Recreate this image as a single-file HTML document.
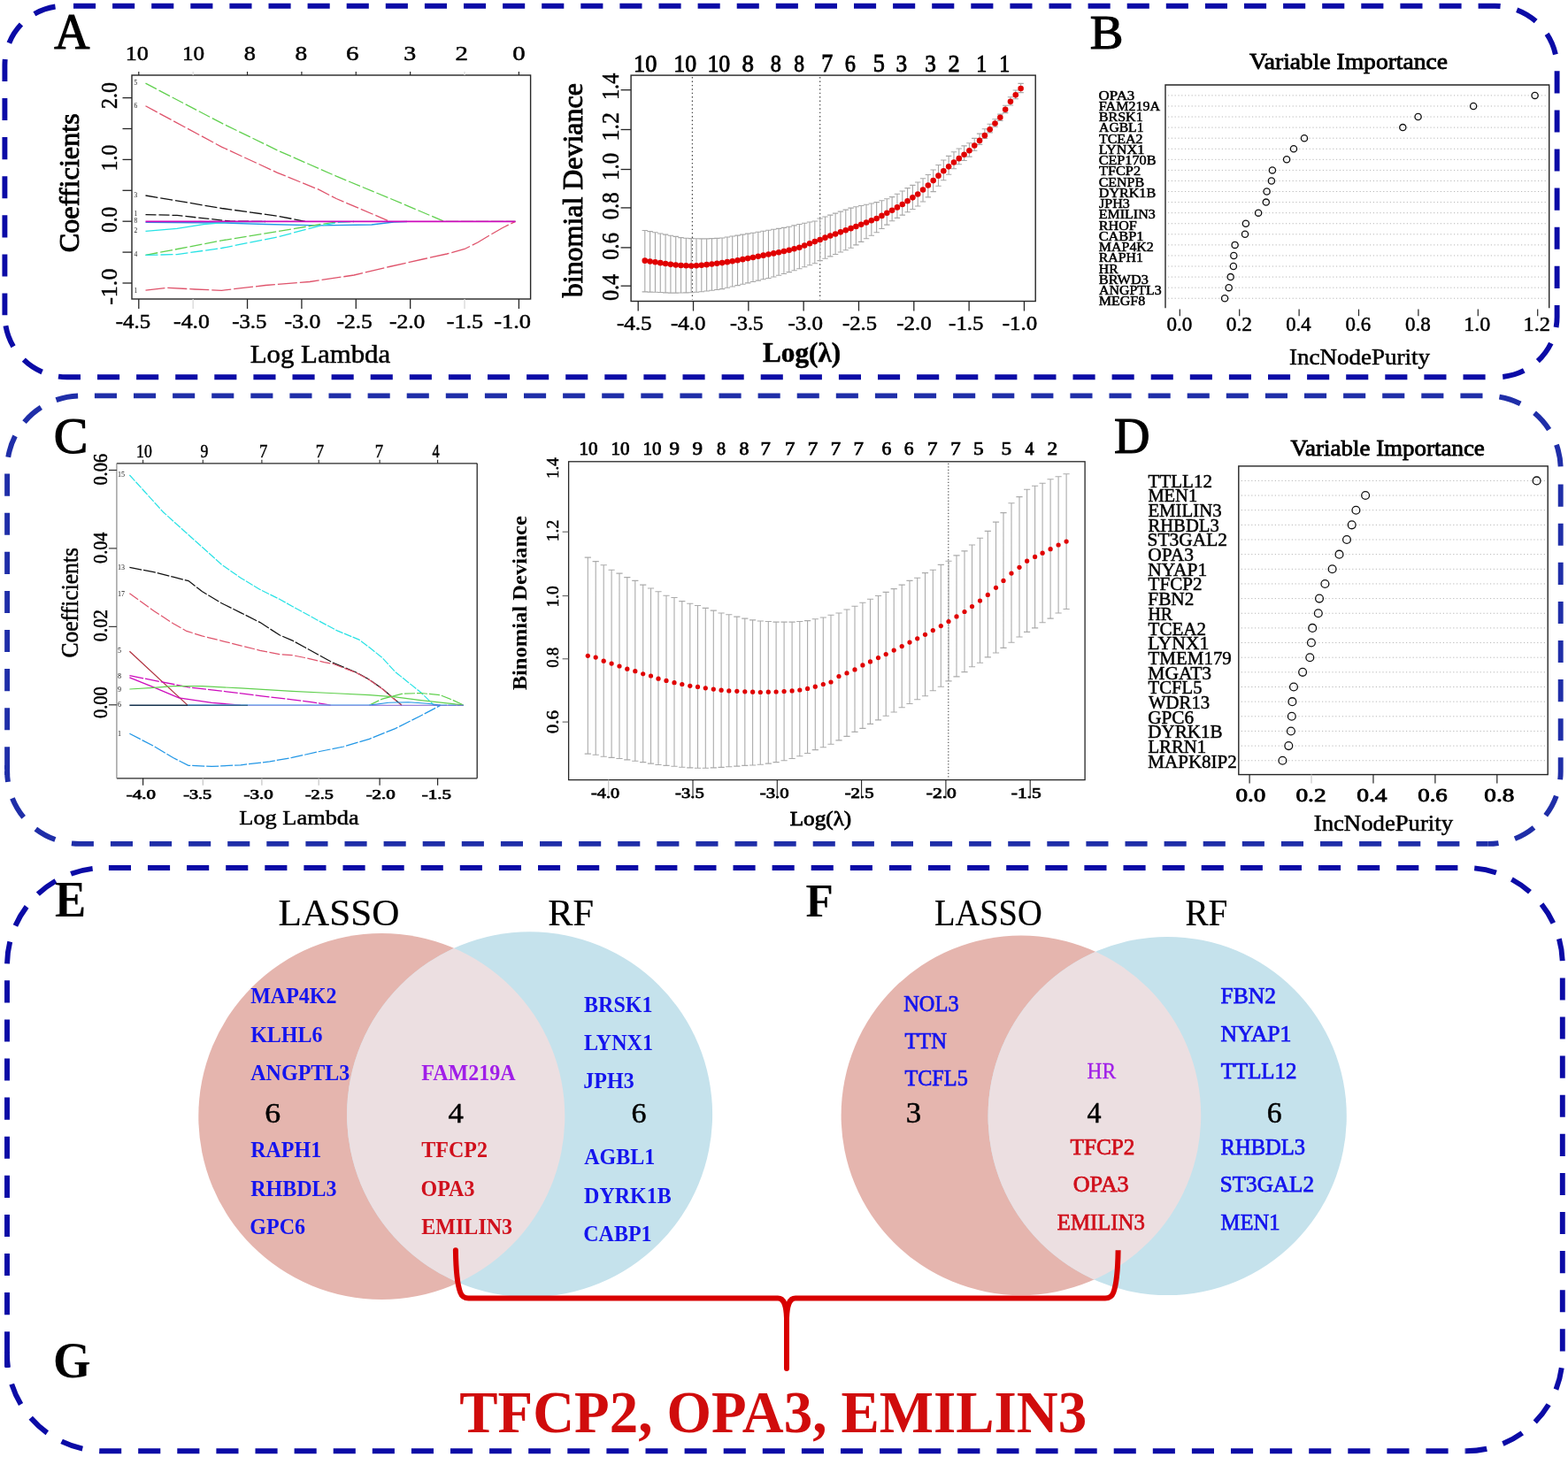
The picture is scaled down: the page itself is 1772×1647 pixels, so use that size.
<!DOCTYPE html>
<html><head><meta charset="utf-8"><title>LASSO and RF feature selection</title>
<style>html,body{margin:0;padding:0;background:#fff;}svg{display:block;}
text{font-family:'Liberation Serif','Times New Roman',serif;}</style></head>
<body><svg width="1772" height="1647" viewBox="0 0 1772 1647">
<rect width="1772" height="1647" fill="#fff"/>
<path d="M72.4,6.8 L1689.6,6.8 A70,70 0 0 1 1759.6,76.8" fill="none" stroke="#0b0ba6" stroke-width="5.9" stroke-dasharray="25.1 19.0" stroke-dashoffset="33.5"/>
<path d="M1759.6,76.8 L1759.6,358.3 A68,68 0 0 1 1691.6,426.3" fill="none" stroke="#0b0ba6" stroke-width="5.9" stroke-dasharray="25.1 19.0" stroke-dashoffset="40.6"/>
<path d="M1691.6,426.3 L75.4,426.3 A70,70 0 0 1 5.4,356.3" fill="none" stroke="#0b0ba6" stroke-width="5.9" stroke-dasharray="25.1 19.0" stroke-dashoffset="31.1"/>
<path d="M5.4,356.3 L5.4,73.8 A67,67 0 0 1 72.4,6.8" fill="none" stroke="#0b0ba6" stroke-width="5.9" stroke-dasharray="25.1 19.0" stroke-dashoffset="0.3"/>
<path d="M91.1,447.4 L1680.7,447.4 A83,83 0 0 1 1763.7,530.4" fill="none" stroke="#1f2ea8" stroke-width="5.9" stroke-dasharray="25.1 19.0" stroke-dashoffset="28.3"/>
<path d="M1763.7,530.4 L1763.7,871.9 A82,82 0 0 1 1681.7,953.9" fill="none" stroke="#1f2ea8" stroke-width="5.9" stroke-dasharray="25.1 19.0" stroke-dashoffset="26.9"/>
<path d="M1681.7,953.9 L90.1,953.9 A82,82 0 0 1 8.1,871.9" fill="none" stroke="#1f2ea8" stroke-width="5.9" stroke-dasharray="25.1 19.0" stroke-dashoffset="11.8"/>
<path d="M8.1,871.9 L8.1,530.4 A83,83 0 0 1 91.1,447.4" fill="none" stroke="#1f2ea8" stroke-width="5.9" stroke-dasharray="25.1 19.0" stroke-dashoffset="41.6"/>
<line x1="8.1" y1="865" x2="8.1" y2="876" stroke="#1f2ea8" stroke-width="5.9"/>
<path d="M118,981 L1656.8,981 A109,109 0 0 1 1765.8,1090" fill="none" stroke="#0b0ba6" stroke-width="5.9" stroke-dasharray="25.1 19.0" stroke-dashoffset="39.2"/>
<path d="M1765.8,1090 L1765.8,1531.3 A109,109 0 0 1 1656.8,1640.3" fill="none" stroke="#0b0ba6" stroke-width="5.9" stroke-dasharray="25.1 19.0" stroke-dashoffset="28.7"/>
<path d="M1656.8,1640.3 L117,1640.3 A109,109 0 0 1 8,1531.3" fill="none" stroke="#0b0ba6" stroke-width="5.9" stroke-dasharray="25.1 19.0" stroke-dashoffset="23.9"/>
<path d="M8,1531.3 L8,1091 A110,110 0 0 1 118,981" fill="none" stroke="#0b0ba6" stroke-width="5.9" stroke-dasharray="25.1 19.0" stroke-dashoffset="43.1"/>
<line x1="8" y1="1528" x2="8" y2="1545.6" stroke="#0b0ba6" stroke-width="5.9"/>
<rect x="3" y="1546" width="11" height="9" fill="#fff"/>
<text x="61.34" y="55.2" font-size="56.52" stroke="#000" stroke-width="1.2" textLength="40.16" lengthAdjust="spacingAndGlyphs">A</text>
<text x="1231.8" y="55.2" font-size="55.57" stroke="#000" stroke-width="1.2" textLength="37.76" lengthAdjust="spacingAndGlyphs">B</text>
<text x="60.78" y="512.3" font-size="56.36" stroke="#000" stroke-width="1.2" textLength="38.62" lengthAdjust="spacingAndGlyphs">C</text>
<text x="1259.11" y="511.8" font-size="56.34" stroke="#000" stroke-width="1.2" textLength="40.57" lengthAdjust="spacingAndGlyphs">D</text>
<text x="62.01" y="1035.6" font-size="57.56" font-weight="bold" textLength="35.24" lengthAdjust="spacingAndGlyphs">E</text>
<text x="910.43" y="1035.5" font-size="53.74" font-weight="bold" textLength="31.32" lengthAdjust="spacingAndGlyphs">F</text>
<text x="60.06" y="1557" font-size="56.82" font-weight="bold" textLength="42.56" lengthAdjust="spacingAndGlyphs">G</text>
<rect x="149" y="85" width="450.6" height="253" fill="none" stroke="#262626" stroke-width="1.4"/>
<line x1="156.8" y1="338" x2="156.8" y2="349" stroke="#262626" stroke-width="1.3"/>
<line x1="156.8" y1="85" x2="156.8" y2="81" stroke="#262626" stroke-width="1.2"/>
<line x1="218.17" y1="338" x2="218.17" y2="349" stroke="#d8d8d8" stroke-width="1.3"/>
<line x1="218.17" y1="85" x2="218.17" y2="81" stroke="#d8d8d8" stroke-width="1.2"/>
<line x1="279.54" y1="338" x2="279.54" y2="349" stroke="#262626" stroke-width="1.3"/>
<line x1="279.54" y1="85" x2="279.54" y2="81" stroke="#262626" stroke-width="1.2"/>
<line x1="340.91" y1="338" x2="340.91" y2="349" stroke="#262626" stroke-width="1.3"/>
<line x1="340.91" y1="85" x2="340.91" y2="81" stroke="#262626" stroke-width="1.2"/>
<line x1="402.28" y1="338" x2="402.28" y2="349" stroke="#262626" stroke-width="1.3"/>
<line x1="402.28" y1="85" x2="402.28" y2="81" stroke="#262626" stroke-width="1.2"/>
<line x1="463.65" y1="338" x2="463.65" y2="349" stroke="#262626" stroke-width="1.3"/>
<line x1="463.65" y1="85" x2="463.65" y2="81" stroke="#262626" stroke-width="1.2"/>
<line x1="525.02" y1="338" x2="525.02" y2="349" stroke="#d8d8d8" stroke-width="1.3"/>
<line x1="525.02" y1="85" x2="525.02" y2="81" stroke="#d8d8d8" stroke-width="1.2"/>
<line x1="586.39" y1="338" x2="586.39" y2="349" stroke="#262626" stroke-width="1.3"/>
<line x1="586.39" y1="85" x2="586.39" y2="81" stroke="#262626" stroke-width="1.2"/>
<line x1="138.5" y1="110.6" x2="149" y2="110.6" stroke="#262626" stroke-width="1.3"/>
<line x1="138.5" y1="145.5" x2="149" y2="145.5" stroke="#262626" stroke-width="1.3"/>
<line x1="138.5" y1="180.4" x2="149" y2="180.4" stroke="#262626" stroke-width="1.3"/>
<line x1="138.5" y1="215.3" x2="149" y2="215.3" stroke="#262626" stroke-width="1.3"/>
<line x1="138.5" y1="250.2" x2="149" y2="250.2" stroke="#262626" stroke-width="1.3"/>
<line x1="138.5" y1="285.1" x2="149" y2="285.1" stroke="#262626" stroke-width="1.3"/>
<line x1="138.5" y1="320" x2="149" y2="320" stroke="#262626" stroke-width="1.3"/>
<text x="141.68" y="67.7" font-size="22.86" stroke="#000" stroke-width="0.5" textLength="26.17" lengthAdjust="spacingAndGlyphs">10</text>
<text x="206.06" y="67.7" font-size="22.86" stroke="#000" stroke-width="0.5" textLength="25.14" lengthAdjust="spacingAndGlyphs">10</text>
<text x="275.75" y="67.7" font-size="22.86" stroke="#000" stroke-width="0.5" textLength="13.1" lengthAdjust="spacingAndGlyphs">8</text>
<text x="333.6" y="67.7" font-size="22.86" stroke="#000" stroke-width="0.5" textLength="13.69" lengthAdjust="spacingAndGlyphs">8</text>
<text x="391.14" y="67.7" font-size="23.03" stroke="#000" stroke-width="0.5" textLength="14.53" lengthAdjust="spacingAndGlyphs">6</text>
<text x="456.24" y="67.7" font-size="23.03" stroke="#000" stroke-width="0.5" textLength="13.98" lengthAdjust="spacingAndGlyphs">3</text>
<text x="514.41" y="67.7" font-size="23.03" stroke="#000" stroke-width="0.5" textLength="14.38" lengthAdjust="spacingAndGlyphs">2</text>
<text x="579.25" y="67.7" font-size="22.86" stroke="#000" stroke-width="0.5" textLength="14.4" lengthAdjust="spacingAndGlyphs">0</text>
<text x="130.83" y="371.4" font-size="22.88" stroke="#000" stroke-width="0.5" textLength="39.31" lengthAdjust="spacingAndGlyphs">-4.5</text>
<text x="196.1" y="371.4" font-size="22.71" stroke="#000" stroke-width="0.5" textLength="40.78" lengthAdjust="spacingAndGlyphs">-4.0</text>
<text x="262.23" y="371.4" font-size="22.88" stroke="#000" stroke-width="0.5" textLength="39.21" lengthAdjust="spacingAndGlyphs">-3.5</text>
<text x="321.6" y="371.4" font-size="22.71" stroke="#000" stroke-width="0.5" textLength="40.78" lengthAdjust="spacingAndGlyphs">-3.0</text>
<text x="380.51" y="371.4" font-size="22.88" stroke="#000" stroke-width="0.5" textLength="40.36" lengthAdjust="spacingAndGlyphs">-2.5</text>
<text x="440.01" y="371.4" font-size="22.71" stroke="#000" stroke-width="0.5" textLength="40.36" lengthAdjust="spacingAndGlyphs">-2.0</text>
<text x="504.68" y="371.4" font-size="22.88" stroke="#000" stroke-width="0.5" textLength="41.41" lengthAdjust="spacingAndGlyphs">-1.5</text>
<text x="558.18" y="371.4" font-size="22.71" stroke="#000" stroke-width="0.5" textLength="41.83" lengthAdjust="spacingAndGlyphs">-1.0</text>
<text x="282.67" y="409.8" font-size="29.06" stroke="#000" stroke-width="0.5" textLength="158.6" lengthAdjust="spacingAndGlyphs">Log Lambda</text>
<text transform="translate(132,121.8) rotate(-90)" x="-1.08" y="0" font-size="25.86" stroke="#000" stroke-width="0.5" textLength="29.94" lengthAdjust="spacingAndGlyphs">2.0</text>
<text transform="translate(132,191.5) rotate(-90)" x="-2.05" y="0" font-size="25.86" stroke="#000" stroke-width="0.5" textLength="30.11" lengthAdjust="spacingAndGlyphs">1.0</text>
<text transform="translate(132,262) rotate(-90)" x="-0.93" y="0" font-size="25.86" stroke="#000" stroke-width="0.5" textLength="28.95" lengthAdjust="spacingAndGlyphs">0.0</text>
<text transform="translate(132,343.9) rotate(-90)" x="-0.91" y="0" font-size="25.86" stroke="#000" stroke-width="0.5" textLength="41.2" lengthAdjust="spacingAndGlyphs">-1.0</text>
<text transform="translate(88.6,284) rotate(-90)" x="-1.29" y="0" font-size="31.77" stroke="#000" stroke-width="0.9" textLength="157.09" lengthAdjust="spacingAndGlyphs">Coefficients</text>
<path d="M164.5,94.2 L250.5,139.2 L313.7,170 L380,199.2 L440,224 L502,250.3 L582.5,250.3" fill="none" stroke="#61D04F" stroke-width="1.3" stroke-dasharray="14 3"/>
<path d="M164.5,119.8 L250.5,166.1 L313.7,195.3 L360,214.2 L380,224.5 L440.5,250.3" fill="none" stroke="#DF536B" stroke-width="1.3" stroke-dasharray="15 3"/>
<path d="M164.5,221 L250.5,235.5 L313.7,244.2 L345,250.3" fill="none" stroke="#111" stroke-width="1.3" stroke-dasharray="14 3"/>
<path d="M164.5,242.6 L200,243.4 L260,250 L300,250.5" fill="none" stroke="#111" stroke-width="1.3" stroke-dasharray="12 3"/>
<path d="M164.5,251.3 L250,252 L300,253.5 L360,254.9 L420,254 L445,251 L460,250.5" fill="none" stroke="#2297E6" stroke-width="1.3"/>
<path d="M164.5,261.3 L200,258.3 L230,253.7 L260,251 L300,250.5" fill="none" stroke="#28E2E5" stroke-width="1.3"/>
<path d="M164.5,288.4 L250.5,271.9 L313.7,261.6 L361,253.7 L380,251 L400,250.5" fill="none" stroke="#61D04F" stroke-width="1.3" stroke-dasharray="14 3"/>
<path d="M164.5,288.4 L200,287.6 L250.5,280.5 L313.7,267.9 L361,255.3 L385,251 L400,250.5" fill="none" stroke="#28E2E5" stroke-width="1.3" stroke-dasharray="14 3"/>
<path d="M164.5,328.2 L190,325.3 L220,327 L250.5,328.3 L300,322.5 L350,318.5 L400,311 L440,301.5 L480,292.5 L505,287 L525,281.5 L540,274 L555,265 L568,257.5 L582.5,250.3" fill="none" stroke="#DF536B" stroke-width="1.3" stroke-dasharray="22 3"/>
<path d="M164.5,250.4 L582.5,250.4" fill="none" stroke="#CD0BBC" stroke-width="1.8"/>
<text x="151.5" y="96" font-size="7.5" fill="#222">5</text>
<text x="151.5" y="122" font-size="7.5" fill="#222">6</text>
<text x="151.5" y="223" font-size="7.5" fill="#222">3</text>
<text x="151.5" y="244" font-size="7.5" fill="#222">1</text>
<text x="151.5" y="252" font-size="7.5" fill="#222">8</text>
<text x="151.5" y="263" font-size="7.5" fill="#222">2</text>
<text x="151.5" y="290" font-size="7.5" fill="#222">4</text>
<text x="151.5" y="331" font-size="7.5" fill="#222">1</text>
<rect x="713.1" y="85.1" width="457.1" height="255.4" fill="none" stroke="#262626" stroke-width="1.4"/>
<line x1="721.2" y1="340.5" x2="721.2" y2="351.5" stroke="#262626" stroke-width="1.3"/>
<line x1="783.52" y1="340.5" x2="783.52" y2="351.5" stroke="#262626" stroke-width="1.3"/>
<line x1="845.84" y1="340.5" x2="845.84" y2="351.5" stroke="#262626" stroke-width="1.3"/>
<line x1="908.16" y1="340.5" x2="908.16" y2="351.5" stroke="#262626" stroke-width="1.3"/>
<line x1="970.48" y1="340.5" x2="970.48" y2="351.5" stroke="#262626" stroke-width="1.3"/>
<line x1="1032.8" y1="340.5" x2="1032.8" y2="351.5" stroke="#262626" stroke-width="1.3"/>
<line x1="1095.12" y1="340.5" x2="1095.12" y2="351.5" stroke="#262626" stroke-width="1.3"/>
<line x1="1157.44" y1="340.5" x2="1157.44" y2="351.5" stroke="#262626" stroke-width="1.3"/>
<line x1="701.6" y1="101.7" x2="713.1" y2="101.7" stroke="#262626" stroke-width="1.3"/>
<line x1="701.6" y1="146.5" x2="713.1" y2="146.5" stroke="#262626" stroke-width="1.3"/>
<line x1="701.6" y1="191.5" x2="713.1" y2="191.5" stroke="#262626" stroke-width="1.3"/>
<line x1="701.6" y1="234.9" x2="713.1" y2="234.9" stroke="#262626" stroke-width="1.3"/>
<line x1="701.6" y1="279.9" x2="713.1" y2="279.9" stroke="#262626" stroke-width="1.3"/>
<line x1="701.6" y1="323.2" x2="713.1" y2="323.2" stroke="#262626" stroke-width="1.3"/>
<line x1="782.4" y1="87.1" x2="782.4" y2="338.5" stroke="#444" stroke-width="1.2" stroke-dasharray="1.4 3"/>
<line x1="926.7" y1="87.1" x2="926.7" y2="338.5" stroke="#444" stroke-width="1.2" stroke-dasharray="1.4 3"/>
<path d="M728.8,260.44 V329.91 M725.6,260.44 H732 M725.6,329.91 H732 M734.62,261.61 V330.09 M731.42,261.61 H737.82 M731.42,330.09 H737.82 M740.44,262.79 V330.28 M737.24,262.79 H743.64 M737.24,330.28 H743.64 M746.26,263.94 V330.55 M743.06,263.94 H749.46 M743.06,330.55 H749.46 M752.08,265.09 V330.83 M748.88,265.09 H755.28 M748.88,330.83 H755.28 M757.9,266.24 V331.11 M754.7,266.24 H761.1 M754.7,331.11 H761.1 M763.72,267.41 V331.13 M760.52,267.41 H766.92 M760.52,331.13 H766.92 M769.53,268.58 V331.02 M766.33,268.58 H772.73 M766.33,331.02 H772.73 M775.35,269.3 V330.92 M772.15,269.3 H778.55 M772.15,330.92 H778.55 M781.17,269.65 V330.81 M777.97,269.65 H784.37 M777.97,330.81 H784.37 M786.99,269.8 V330.3 M783.79,269.8 H790.19 M783.79,330.3 H790.19 M792.81,269.92 V329.71 M789.61,269.92 H796.01 M789.61,329.71 H796.01 M798.63,269.92 V329.07 M795.43,269.92 H801.83 M795.43,329.07 H801.83 M804.45,269.63 V328.29 M801.25,269.63 H807.65 M801.25,328.29 H807.65 M810.27,269.35 V327.5 M807.07,269.35 H813.47 M807.07,327.5 H813.47 M816.09,269 V326.66 M812.89,269 H819.29 M812.89,326.66 H819.29 M821.91,268.03 V325.32 M818.71,268.03 H825.11 M818.71,325.32 H825.11 M827.73,267.06 V323.97 M824.53,267.06 H830.93 M824.53,323.97 H830.93 M833.55,266.09 V322.63 M830.35,266.09 H836.75 M830.35,322.63 H836.75 M839.36,265.13 V321.26 M836.16,265.13 H842.56 M836.16,321.26 H842.56 M845.18,264.16 V319.89 M841.98,264.16 H848.38 M841.98,319.89 H848.38 M851,263.2 V318.52 M847.8,263.2 H854.2 M847.8,318.52 H854.2 M856.82,262.23 V317.17 M853.62,262.23 H860.02 M853.62,317.17 H860.02 M862.64,261.26 V315.82 M859.44,261.26 H865.84 M859.44,315.82 H865.84 M868.46,260.29 V314.48 M865.26,260.29 H871.66 M865.26,314.48 H871.66 M874.28,259.32 V312.93 M871.08,259.32 H877.48 M871.08,312.93 H877.48 M880.1,258.35 V311.18 M876.9,258.35 H883.3 M876.9,311.18 H883.3 M885.92,257.38 V309.43 M882.72,257.38 H889.12 M882.72,309.43 H889.12 M891.74,256.29 V307.62 M888.54,256.29 H894.94 M888.54,307.62 H894.94 M897.56,254.91 V305.68 M894.36,254.91 H900.76 M894.36,305.68 H900.76 M903.38,253.54 V303.74 M900.18,253.54 H906.58 M900.18,303.74 H906.58 M909.19,252.18 V301.79 M905.99,252.18 H912.39 M905.99,301.79 H912.39 M915.01,251.06 V299.78 M911.81,251.06 H918.21 M911.81,299.78 H918.21 M920.83,249.93 V297.76 M917.63,249.93 H924.03 M917.63,297.76 H924.03 M926.65,247.05 V294.61 M923.45,247.05 H929.85 M923.45,294.61 H929.85 M932.47,245.06 V292.23 M929.27,245.06 H935.67 M929.27,292.23 H935.67 M938.29,243.08 V289.84 M935.09,243.08 H941.49 M935.09,289.84 H941.49 M944.11,241.1 V287.46 M940.91,241.1 H947.31 M940.91,287.46 H947.31 M949.93,239.12 V285.07 M946.73,239.12 H953.13 M946.73,285.07 H953.13 M955.75,237.13 V282.69 M952.55,237.13 H958.95 M952.55,282.69 H958.95 M961.57,235.15 V280.3 M958.37,235.15 H964.77 M958.37,280.3 H964.77 M967.39,233.78 V276.9 M964.19,233.78 H970.59 M964.19,276.9 H970.59 M973.21,232.5 V273.35 M970.01,232.5 H976.41 M970.01,273.35 H976.41 M979.02,231.21 V269.8 M975.82,231.21 H982.22 M975.82,269.8 H982.22 M984.84,229.93 V266.24 M981.64,229.93 H988.04 M981.64,266.24 H988.04 M990.66,228.65 V262.69 M987.46,228.65 H993.86 M987.46,262.69 H993.86 M996.48,226.74 V258.49 M993.28,226.74 H999.68 M993.28,258.49 H999.68 M1002.3,224.69 V254.12 M999.1,224.69 H1005.5 M999.1,254.12 H1005.5 M1008.12,222.63 V249.76 M1004.92,222.63 H1011.32 M1004.92,249.76 H1011.32 M1013.94,219.32 V246.42 M1010.74,219.32 H1017.14 M1010.74,246.42 H1017.14 M1019.76,215.99 V243.09 M1016.56,215.99 H1022.96 M1016.56,243.09 H1022.96 M1025.58,212.67 V239.77 M1022.38,212.67 H1028.78 M1022.38,239.77 H1028.78 M1031.4,209.34 V236.44 M1028.2,209.34 H1034.6 M1028.2,236.44 H1034.6 M1037.22,205.97 V233.02 M1034.02,205.97 H1040.42 M1034.02,233.02 H1040.42 M1043.04,201.71 V227.96 M1039.84,201.71 H1046.24 M1039.84,227.96 H1046.24 M1048.85,197.45 V222.9 M1045.65,197.45 H1052.05 M1045.65,222.9 H1052.05 M1054.67,191.99 V216.59 M1051.47,191.99 H1057.87 M1051.47,216.59 H1057.87 M1060.49,186.46 V210.21 M1057.29,186.46 H1063.69 M1057.29,210.21 H1063.69 M1066.31,181.03 V203.81 M1063.11,181.03 H1069.51 M1063.11,203.81 H1069.51 M1072.13,176.36 V197.31 M1068.93,176.36 H1075.33 M1068.93,197.31 H1075.33 M1077.95,171.69 V190.82 M1074.75,171.69 H1081.15 M1074.75,190.82 H1081.15 M1083.77,167.97 V185.69 M1080.57,167.97 H1086.97 M1080.57,185.69 H1086.97 M1089.59,164.9 V181.48 M1086.39,164.9 H1092.79 M1086.39,181.48 H1092.79 M1095.41,161.72 V177.14 M1092.21,161.72 H1098.61 M1092.21,177.14 H1098.61 M1101.23,156.42 V170.25 M1098.03,156.42 H1104.43 M1098.03,170.25 H1104.43 M1107.05,151.12 V163.36 M1103.85,151.12 H1110.25 M1103.85,163.36 H1110.25 M1112.87,145.81 V156.48 M1109.67,145.81 H1116.07 M1109.67,156.48 H1116.07 M1118.68,140.27 V149.84 M1115.48,140.27 H1121.88 M1115.48,149.84 H1121.88 M1124.5,134.73 V143.2 M1121.3,134.73 H1127.7 M1121.3,143.2 H1127.7 M1130.32,129.16 V136.56 M1127.12,129.16 H1133.52 M1127.12,136.56 H1133.52 M1136.14,119.32 V127.65 M1132.94,119.32 H1139.34 M1132.94,127.65 H1139.34 M1141.96,109.82 V119 M1138.76,109.82 H1145.16 M1138.76,119 H1145.16 M1147.78,102.04 V111.74 M1144.58,102.04 H1150.98 M1144.58,111.74 H1150.98 M1153.6,94.4 V104.6 M1150.4,94.4 H1156.8 M1150.4,104.6 H1156.8" fill="none" stroke="#a8a8a8" stroke-width="1.1"/>
<g fill="#e00000"><circle cx="728.8" cy="294.63" r="3.3"/><circle cx="734.62" cy="295.47" r="3.3"/><circle cx="740.44" cy="296.32" r="3.3"/><circle cx="746.26" cy="297.16" r="3.3"/><circle cx="752.08" cy="297.99" r="3.3"/><circle cx="757.9" cy="298.83" r="3.3"/><circle cx="763.72" cy="299.44" r="3.3"/><circle cx="769.53" cy="300.03" r="3.3"/><circle cx="775.35" cy="300.27" r="3.3"/><circle cx="781.17" cy="300.47" r="3.3"/><circle cx="786.99" cy="300.19" r="3.3"/><circle cx="792.81" cy="299.82" r="3.3"/><circle cx="798.63" cy="299.17" r="3.3"/><circle cx="804.45" cy="298.49" r="3.3"/><circle cx="810.27" cy="297.79" r="3.3"/><circle cx="816.09" cy="297.09" r="3.3"/><circle cx="821.91" cy="296.17" r="3.3"/><circle cx="827.73" cy="295.23" r="3.3"/><circle cx="833.55" cy="294.19" r="3.3"/><circle cx="839.36" cy="293.16" r="3.3"/><circle cx="845.18" cy="292.12" r="3.3"/><circle cx="851" cy="290.95" r="3.3"/><circle cx="856.82" cy="289.78" r="3.3"/><circle cx="862.64" cy="288.65" r="3.3"/><circle cx="868.46" cy="287.54" r="3.3"/><circle cx="874.28" cy="286.42" r="3.3"/><circle cx="880.1" cy="285.18" r="3.3"/><circle cx="885.92" cy="283.94" r="3.3"/><circle cx="891.74" cy="282.69" r="3.3"/><circle cx="897.56" cy="281.24" r="3.3"/><circle cx="903.38" cy="279.78" r="3.3"/><circle cx="909.19" cy="277.52" r="3.3"/><circle cx="915.01" cy="275.22" r="3.3"/><circle cx="920.83" cy="273.1" r="3.3"/><circle cx="926.65" cy="270.98" r="3.3"/><circle cx="932.47" cy="268.63" r="3.3"/><circle cx="938.29" cy="266.53" r="3.3"/><circle cx="944.11" cy="264.44" r="3.3"/><circle cx="949.93" cy="262.35" r="3.3"/><circle cx="955.75" cy="260.25" r="3.3"/><circle cx="961.57" cy="258.16" r="3.3"/><circle cx="967.39" cy="255.95" r="3.3"/><circle cx="973.21" cy="253.72" r="3.3"/><circle cx="979.02" cy="251.49" r="3.3"/><circle cx="984.84" cy="249.25" r="3.3"/><circle cx="990.66" cy="246.96" r="3.3"/><circle cx="996.48" cy="243.88" r="3.3"/><circle cx="1002.3" cy="240.81" r="3.3"/><circle cx="1008.12" cy="237.74" r="3.3"/><circle cx="1013.94" cy="234.41" r="3.3"/><circle cx="1019.76" cy="231.06" r="3.3"/><circle cx="1025.58" cy="227.2" r="3.3"/><circle cx="1031.4" cy="223.35" r="3.3"/><circle cx="1037.22" cy="219.43" r="3.3"/><circle cx="1043.04" cy="214.52" r="3.3"/><circle cx="1048.85" cy="209.57" r="3.3"/><circle cx="1054.67" cy="204.11" r="3.3"/><circle cx="1060.49" cy="198.65" r="3.3"/><circle cx="1066.31" cy="193.18" r="3.3"/><circle cx="1072.13" cy="188.37" r="3.3"/><circle cx="1077.95" cy="183.56" r="3.3"/><circle cx="1083.77" cy="179.13" r="3.3"/><circle cx="1089.59" cy="174.7" r="3.3"/><circle cx="1095.41" cy="170.2" r="3.3"/><circle cx="1101.23" cy="164.55" r="3.3"/><circle cx="1107.05" cy="158.9" r="3.3"/><circle cx="1112.87" cy="153.14" r="3.3"/><circle cx="1118.68" cy="146.35" r="3.3"/><circle cx="1124.5" cy="139.56" r="3.3"/><circle cx="1130.32" cy="132.76" r="3.3"/><circle cx="1136.14" cy="123.72" r="3.3"/><circle cx="1141.96" cy="114.85" r="3.3"/><circle cx="1147.78" cy="107.36" r="3.3"/><circle cx="1153.6" cy="100" r="3.3"/></g>
<text x="716.07" y="80.6" font-size="28.12" stroke="#000" stroke-width="0.9" textLength="26.29" lengthAdjust="spacingAndGlyphs">10</text>
<text x="761.3" y="80.6" font-size="28.12" stroke="#000" stroke-width="0.9" textLength="25.83" lengthAdjust="spacingAndGlyphs">10</text>
<text x="799.4" y="80.6" font-size="28.12" stroke="#000" stroke-width="0.9" textLength="25.83" lengthAdjust="spacingAndGlyphs">10</text>
<text x="838.62" y="80.6" font-size="28.12" stroke="#000" stroke-width="0.9" textLength="13.45" lengthAdjust="spacingAndGlyphs">8</text>
<text x="870.83" y="80.6" font-size="28.12" stroke="#000" stroke-width="0.9" textLength="12.14" lengthAdjust="spacingAndGlyphs">8</text>
<text x="897.26" y="80.6" font-size="28.12" stroke="#000" stroke-width="0.9" textLength="11.79" lengthAdjust="spacingAndGlyphs">8</text>
<text x="928.31" y="80.6" font-size="28.55" stroke="#000" stroke-width="0.9" textLength="12.96" lengthAdjust="spacingAndGlyphs">7</text>
<text x="954.77" y="80.6" font-size="28.33" stroke="#000" stroke-width="0.9" textLength="12.21" lengthAdjust="spacingAndGlyphs">6</text>
<text x="986.67" y="80.6" font-size="28.55" stroke="#000" stroke-width="0.9" textLength="13.12" lengthAdjust="spacingAndGlyphs">5</text>
<text x="1012.61" y="80.6" font-size="28.33" stroke="#000" stroke-width="0.9" textLength="12.65" lengthAdjust="spacingAndGlyphs">3</text>
<text x="1045.31" y="80.6" font-size="28.33" stroke="#000" stroke-width="0.9" textLength="12.65" lengthAdjust="spacingAndGlyphs">3</text>
<text x="1071.47" y="80.6" font-size="28.33" stroke="#000" stroke-width="0.9" textLength="13.12" lengthAdjust="spacingAndGlyphs">2</text>
<text x="1103.31" y="80.6" font-size="28.33" stroke="#000" stroke-width="0.9" textLength="11.97" lengthAdjust="spacingAndGlyphs">1</text>
<text x="1129.21" y="80.6" font-size="28.33" stroke="#000" stroke-width="0.9" textLength="11.97" lengthAdjust="spacingAndGlyphs">1</text>
<text x="696.92" y="372.8" font-size="22.42" stroke="#000" stroke-width="0.5" textLength="39.73" lengthAdjust="spacingAndGlyphs">-4.5</text>
<text x="757.93" y="372.8" font-size="22.26" stroke="#000" stroke-width="0.5" textLength="39.42" lengthAdjust="spacingAndGlyphs">-4.0</text>
<text x="825.07" y="372.8" font-size="22.42" stroke="#000" stroke-width="0.5" textLength="37.74" lengthAdjust="spacingAndGlyphs">-3.5</text>
<text x="890.43" y="372.8" font-size="22.26" stroke="#000" stroke-width="0.5" textLength="39.52" lengthAdjust="spacingAndGlyphs">-3.0</text>
<text x="952.04" y="372.8" font-size="22.42" stroke="#000" stroke-width="0.5" textLength="39.1" lengthAdjust="spacingAndGlyphs">-2.5</text>
<text x="1013.23" y="372.8" font-size="22.26" stroke="#000" stroke-width="0.5" textLength="39.42" lengthAdjust="spacingAndGlyphs">-2.0</text>
<text x="1072.13" y="372.8" font-size="22.42" stroke="#000" stroke-width="0.5" textLength="39.42" lengthAdjust="spacingAndGlyphs">-1.5</text>
<text x="1132.73" y="372.8" font-size="22.26" stroke="#000" stroke-width="0.5" textLength="39.42" lengthAdjust="spacingAndGlyphs">-1.0</text>
<text x="861.93" y="409.2" font-size="31.77" font-weight="bold" stroke="#000" stroke-width="0.5" textLength="88.26" lengthAdjust="spacingAndGlyphs">Log(λ)</text>
<text transform="translate(698.5,111) rotate(-90)" x="-2.06" y="0" font-size="28.18" stroke="#000" stroke-width="0.5" textLength="30.33" lengthAdjust="spacingAndGlyphs">1.4</text>
<text transform="translate(698.5,157.4) rotate(-90)" x="-2.21" y="0" font-size="28.18" stroke="#000" stroke-width="0.5" textLength="32.55" lengthAdjust="spacingAndGlyphs">1.2</text>
<text transform="translate(698.5,201.8) rotate(-90)" x="-2.1" y="0" font-size="27.97" stroke="#000" stroke-width="0.5" textLength="30.89" lengthAdjust="spacingAndGlyphs">1.0</text>
<text transform="translate(698.5,247.3) rotate(-90)" x="-0.99" y="0" font-size="27.97" stroke="#000" stroke-width="0.5" textLength="30.98" lengthAdjust="spacingAndGlyphs">0.8</text>
<text transform="translate(698.5,292.7) rotate(-90)" x="-0.98" y="0" font-size="27.97" stroke="#000" stroke-width="0.5" textLength="30.61" lengthAdjust="spacingAndGlyphs">0.6</text>
<text transform="translate(698.5,339.1) rotate(-90)" x="-0.97" y="0" font-size="27.97" stroke="#000" stroke-width="0.5" textLength="30.23" lengthAdjust="spacingAndGlyphs">0.4</text>
<text transform="translate(658.2,336.2) rotate(-90)" x="0" y="0" font-size="31.94" stroke="#000" stroke-width="0.9" textLength="242.03" lengthAdjust="spacingAndGlyphs">binomial Deviance</text>
<line x1="1320" y1="107.9" x2="1747.7" y2="107.9" stroke="#b8b8b8" stroke-width="1.0" stroke-dasharray="1.2 2.6"/>
<line x1="1320" y1="119.97" x2="1747.7" y2="119.97" stroke="#b8b8b8" stroke-width="1.0" stroke-dasharray="1.2 2.6"/>
<line x1="1320" y1="132.04" x2="1747.7" y2="132.04" stroke="#b8b8b8" stroke-width="1.0" stroke-dasharray="1.2 2.6"/>
<line x1="1320" y1="144.11" x2="1747.7" y2="144.11" stroke="#b8b8b8" stroke-width="1.0" stroke-dasharray="1.2 2.6"/>
<line x1="1320" y1="156.18" x2="1747.7" y2="156.18" stroke="#b8b8b8" stroke-width="1.0" stroke-dasharray="1.2 2.6"/>
<line x1="1320" y1="168.25" x2="1747.7" y2="168.25" stroke="#b8b8b8" stroke-width="1.0" stroke-dasharray="1.2 2.6"/>
<line x1="1320" y1="180.32" x2="1747.7" y2="180.32" stroke="#b8b8b8" stroke-width="1.0" stroke-dasharray="1.2 2.6"/>
<line x1="1320" y1="192.39" x2="1747.7" y2="192.39" stroke="#b8b8b8" stroke-width="1.0" stroke-dasharray="1.2 2.6"/>
<line x1="1320" y1="204.46" x2="1747.7" y2="204.46" stroke="#b8b8b8" stroke-width="1.0" stroke-dasharray="1.2 2.6"/>
<line x1="1320" y1="216.53" x2="1747.7" y2="216.53" stroke="#b8b8b8" stroke-width="1.0" stroke-dasharray="1.2 2.6"/>
<line x1="1320" y1="228.6" x2="1747.7" y2="228.6" stroke="#b8b8b8" stroke-width="1.0" stroke-dasharray="1.2 2.6"/>
<line x1="1320" y1="240.67" x2="1747.7" y2="240.67" stroke="#b8b8b8" stroke-width="1.0" stroke-dasharray="1.2 2.6"/>
<line x1="1320" y1="252.74" x2="1747.7" y2="252.74" stroke="#b8b8b8" stroke-width="1.0" stroke-dasharray="1.2 2.6"/>
<line x1="1320" y1="264.81" x2="1747.7" y2="264.81" stroke="#b8b8b8" stroke-width="1.0" stroke-dasharray="1.2 2.6"/>
<line x1="1320" y1="276.88" x2="1747.7" y2="276.88" stroke="#b8b8b8" stroke-width="1.0" stroke-dasharray="1.2 2.6"/>
<line x1="1320" y1="288.95" x2="1747.7" y2="288.95" stroke="#b8b8b8" stroke-width="1.0" stroke-dasharray="1.2 2.6"/>
<line x1="1320" y1="301.02" x2="1747.7" y2="301.02" stroke="#b8b8b8" stroke-width="1.0" stroke-dasharray="1.2 2.6"/>
<line x1="1320" y1="313.09" x2="1747.7" y2="313.09" stroke="#b8b8b8" stroke-width="1.0" stroke-dasharray="1.2 2.6"/>
<line x1="1320" y1="325.16" x2="1747.7" y2="325.16" stroke="#b8b8b8" stroke-width="1.0" stroke-dasharray="1.2 2.6"/>
<line x1="1320" y1="337.23" x2="1747.7" y2="337.23" stroke="#b8b8b8" stroke-width="1.0" stroke-dasharray="1.2 2.6"/>
<path d="M1317,348.2 V96 H1750.7 V348.2" fill="none" stroke="#262626" stroke-width="1.4"/>
<g fill="none" stroke="#111" stroke-width="1.3"><circle cx="1734.6" cy="107.9" r="3.6"/><circle cx="1665.1" cy="119.97" r="3.6"/><circle cx="1602.6" cy="132.04" r="3.6"/><circle cx="1585.3" cy="144.11" r="3.6"/><circle cx="1474" cy="156.18" r="3.6"/><circle cx="1462" cy="168.25" r="3.6"/><circle cx="1454.1" cy="180.32" r="3.6"/><circle cx="1437.9" cy="192.39" r="3.6"/><circle cx="1436.9" cy="204.46" r="3.6"/><circle cx="1431.6" cy="216.53" r="3.6"/><circle cx="1430.8" cy="228.6" r="3.6"/><circle cx="1422.1" cy="240.67" r="3.6"/><circle cx="1407.9" cy="252.74" r="3.6"/><circle cx="1407" cy="264.81" r="3.6"/><circle cx="1395.6" cy="276.88" r="3.6"/><circle cx="1394.3" cy="288.95" r="3.6"/><circle cx="1393.9" cy="301.02" r="3.6"/><circle cx="1390.7" cy="313.09" r="3.6"/><circle cx="1388.7" cy="325.16" r="3.6"/><circle cx="1384.1" cy="337.23" r="3.6"/></g>
<text x="1241.63" y="112.6" font-size="14.55" stroke="#000" stroke-width="0.5" textLength="40.63" lengthAdjust="spacingAndGlyphs">OPA3</text>
<text x="1241.82" y="124.85" font-size="14.55" stroke="#000" stroke-width="0.5" textLength="69.37" lengthAdjust="spacingAndGlyphs">FAM219A</text>
<text x="1241.82" y="137.1" font-size="14.55" stroke="#000" stroke-width="0.5" textLength="49.88" lengthAdjust="spacingAndGlyphs">BRSK1</text>
<text x="1242.14" y="149.35" font-size="14.55" stroke="#000" stroke-width="0.5" textLength="50.33" lengthAdjust="spacingAndGlyphs">AGBL1</text>
<text x="1241.98" y="161.6" font-size="14.55" stroke="#000" stroke-width="0.5" textLength="49.61" lengthAdjust="spacingAndGlyphs">TCEA2</text>
<text x="1241.81" y="173.85" font-size="14.55" stroke="#000" stroke-width="0.5" textLength="51.5" lengthAdjust="spacingAndGlyphs">LYNX1</text>
<text x="1241.65" y="186.1" font-size="14.44" stroke="#000" stroke-width="0.5" textLength="64.79" lengthAdjust="spacingAndGlyphs">CEP170B</text>
<text x="1241.97" y="198.35" font-size="14.55" stroke="#000" stroke-width="0.5" textLength="47.13" lengthAdjust="spacingAndGlyphs">TFCP2</text>
<text x="1241.66" y="210.6" font-size="14.55" stroke="#000" stroke-width="0.5" textLength="51.41" lengthAdjust="spacingAndGlyphs">CENPB</text>
<text x="1241.82" y="222.85" font-size="14.55" stroke="#000" stroke-width="0.5" textLength="64.32" lengthAdjust="spacingAndGlyphs">DYRK1B</text>
<text x="1241.98" y="235.1" font-size="14.55" stroke="#000" stroke-width="0.5" textLength="34.82" lengthAdjust="spacingAndGlyphs">JPH3</text>
<text x="1241.82" y="247.35" font-size="14.55" stroke="#000" stroke-width="0.5" textLength="63.9" lengthAdjust="spacingAndGlyphs">EMILIN3</text>
<text x="1241.82" y="259.6" font-size="14.55" stroke="#000" stroke-width="0.5" textLength="42.89" lengthAdjust="spacingAndGlyphs">RHOF</text>
<text x="1241.65" y="271.85" font-size="14.55" stroke="#000" stroke-width="0.5" textLength="50.87" lengthAdjust="spacingAndGlyphs">CABP1</text>
<text x="1241.82" y="284.1" font-size="14.55" stroke="#000" stroke-width="0.5" textLength="62.05" lengthAdjust="spacingAndGlyphs">MAP4K2</text>
<text x="1241.83" y="296.35" font-size="14.55" stroke="#000" stroke-width="0.5" textLength="50.08" lengthAdjust="spacingAndGlyphs">RAPH1</text>
<text x="1241.83" y="308.6" font-size="14.66" stroke="#000" stroke-width="0.5" textLength="21.84" lengthAdjust="spacingAndGlyphs">HR</text>
<text x="1241.81" y="320.85" font-size="14.55" stroke="#000" stroke-width="0.5" textLength="56.04" lengthAdjust="spacingAndGlyphs">BRWD3</text>
<text x="1242.14" y="333.1" font-size="14.55" stroke="#000" stroke-width="0.5" textLength="70.48" lengthAdjust="spacingAndGlyphs">ANGPTL3</text>
<text x="1241.82" y="345.35" font-size="14.44" stroke="#000" stroke-width="0.5" textLength="52.39" lengthAdjust="spacingAndGlyphs">MEGF8</text>
<line x1="1333.3" y1="349.6" x2="1333.3" y2="357.2" stroke="#262626" stroke-width="1.2"/>
<line x1="1400.7" y1="349.6" x2="1400.7" y2="357.2" stroke="#262626" stroke-width="1.2"/>
<line x1="1468.1" y1="349.6" x2="1468.1" y2="357.2" stroke="#262626" stroke-width="1.2"/>
<line x1="1535.5" y1="349.6" x2="1535.5" y2="357.2" stroke="#262626" stroke-width="1.2"/>
<line x1="1602.9" y1="349.6" x2="1602.9" y2="357.2" stroke="#262626" stroke-width="1.2"/>
<line x1="1670.3" y1="349.6" x2="1670.3" y2="357.2" stroke="#262626" stroke-width="1.2"/>
<line x1="1737.7" y1="349.6" x2="1737.7" y2="357.2" stroke="#262626" stroke-width="1.2"/>
<text x="1318.38" y="374.4" font-size="23.31" stroke="#000" stroke-width="0.5" textLength="28.85" lengthAdjust="spacingAndGlyphs">0.0</text>
<text x="1385.76" y="374.4" font-size="23.31" stroke="#000" stroke-width="0.5" textLength="29.22" lengthAdjust="spacingAndGlyphs">0.2</text>
<text x="1453.2" y="374.4" font-size="23.31" stroke="#000" stroke-width="0.5" textLength="28.24" lengthAdjust="spacingAndGlyphs">0.4</text>
<text x="1520.58" y="374.4" font-size="23.31" stroke="#000" stroke-width="0.5" textLength="28.6" lengthAdjust="spacingAndGlyphs">0.6</text>
<text x="1587.98" y="374.4" font-size="23.31" stroke="#000" stroke-width="0.5" textLength="28.85" lengthAdjust="spacingAndGlyphs">0.8</text>
<text x="1654.26" y="374.4" font-size="23.31" stroke="#000" stroke-width="0.5" textLength="30" lengthAdjust="spacingAndGlyphs">1.0</text>
<text x="1721.63" y="374.4" font-size="23.48" stroke="#000" stroke-width="0.5" textLength="30.41" lengthAdjust="spacingAndGlyphs">1.2</text>
<text x="1411.92" y="77.8" font-size="25.18" stroke="#000" stroke-width="0.8" textLength="224.03" lengthAdjust="spacingAndGlyphs">Variable Importance</text>
<text x="1457.05" y="412" font-size="25.18" stroke="#000" stroke-width="0.5" textLength="159.02" lengthAdjust="spacingAndGlyphs">IncNodePurity</text>
<line x1="1402.8" y1="543.4" x2="1746.2" y2="543.4" stroke="#b8b8b8" stroke-width="1.0" stroke-dasharray="1.2 2.6"/>
<line x1="1402.8" y1="560.05" x2="1746.2" y2="560.05" stroke="#b8b8b8" stroke-width="1.0" stroke-dasharray="1.2 2.6"/>
<line x1="1402.8" y1="576.7" x2="1746.2" y2="576.7" stroke="#b8b8b8" stroke-width="1.0" stroke-dasharray="1.2 2.6"/>
<line x1="1402.8" y1="593.35" x2="1746.2" y2="593.35" stroke="#b8b8b8" stroke-width="1.0" stroke-dasharray="1.2 2.6"/>
<line x1="1402.8" y1="610" x2="1746.2" y2="610" stroke="#b8b8b8" stroke-width="1.0" stroke-dasharray="1.2 2.6"/>
<line x1="1402.8" y1="626.65" x2="1746.2" y2="626.65" stroke="#b8b8b8" stroke-width="1.0" stroke-dasharray="1.2 2.6"/>
<line x1="1402.8" y1="643.3" x2="1746.2" y2="643.3" stroke="#b8b8b8" stroke-width="1.0" stroke-dasharray="1.2 2.6"/>
<line x1="1402.8" y1="659.95" x2="1746.2" y2="659.95" stroke="#b8b8b8" stroke-width="1.0" stroke-dasharray="1.2 2.6"/>
<line x1="1402.8" y1="676.6" x2="1746.2" y2="676.6" stroke="#b8b8b8" stroke-width="1.0" stroke-dasharray="1.2 2.6"/>
<line x1="1402.8" y1="693.25" x2="1746.2" y2="693.25" stroke="#b8b8b8" stroke-width="1.0" stroke-dasharray="1.2 2.6"/>
<line x1="1402.8" y1="709.9" x2="1746.2" y2="709.9" stroke="#b8b8b8" stroke-width="1.0" stroke-dasharray="1.2 2.6"/>
<line x1="1402.8" y1="726.55" x2="1746.2" y2="726.55" stroke="#b8b8b8" stroke-width="1.0" stroke-dasharray="1.2 2.6"/>
<line x1="1402.8" y1="743.2" x2="1746.2" y2="743.2" stroke="#b8b8b8" stroke-width="1.0" stroke-dasharray="1.2 2.6"/>
<line x1="1402.8" y1="759.85" x2="1746.2" y2="759.85" stroke="#b8b8b8" stroke-width="1.0" stroke-dasharray="1.2 2.6"/>
<line x1="1402.8" y1="776.5" x2="1746.2" y2="776.5" stroke="#b8b8b8" stroke-width="1.0" stroke-dasharray="1.2 2.6"/>
<line x1="1402.8" y1="793.15" x2="1746.2" y2="793.15" stroke="#b8b8b8" stroke-width="1.0" stroke-dasharray="1.2 2.6"/>
<line x1="1402.8" y1="809.8" x2="1746.2" y2="809.8" stroke="#b8b8b8" stroke-width="1.0" stroke-dasharray="1.2 2.6"/>
<line x1="1402.8" y1="826.45" x2="1746.2" y2="826.45" stroke="#b8b8b8" stroke-width="1.0" stroke-dasharray="1.2 2.6"/>
<line x1="1402.8" y1="843.1" x2="1746.2" y2="843.1" stroke="#b8b8b8" stroke-width="1.0" stroke-dasharray="1.2 2.6"/>
<line x1="1402.8" y1="859.75" x2="1746.2" y2="859.75" stroke="#b8b8b8" stroke-width="1.0" stroke-dasharray="1.2 2.6"/>
<rect x="1399.8" y="526.9" width="349.4" height="348.7" fill="none" stroke="#262626" stroke-width="1.4"/>
<g fill="none" stroke="#111" stroke-width="1.3"><circle cx="1736.6" cy="543.4" r="4.4"/><circle cx="1543.1" cy="560.05" r="4.4"/><circle cx="1532.4" cy="576.7" r="4.4"/><circle cx="1527.7" cy="593.35" r="4.4"/><circle cx="1522" cy="610" r="4.4"/><circle cx="1513.5" cy="626.65" r="4.4"/><circle cx="1505.6" cy="643.3" r="4.4"/><circle cx="1497.4" cy="659.95" r="4.4"/><circle cx="1491" cy="676.6" r="4.4"/><circle cx="1489.8" cy="693.25" r="4.4"/><circle cx="1483.2" cy="709.9" r="4.4"/><circle cx="1481.9" cy="726.55" r="4.4"/><circle cx="1480.3" cy="743.2" r="4.4"/><circle cx="1472.1" cy="759.85" r="4.4"/><circle cx="1462" cy="776.5" r="4.4"/><circle cx="1460.4" cy="793.15" r="4.4"/><circle cx="1459.8" cy="809.8" r="4.4"/><circle cx="1458.9" cy="826.45" r="4.4"/><circle cx="1456.3" cy="843.1" r="4.4"/><circle cx="1449.4" cy="859.75" r="4.4"/></g>
<text x="1297.58" y="550.5" font-size="21.82" stroke="#000" stroke-width="0.5" textLength="72.34" lengthAdjust="spacingAndGlyphs">TTLL12</text>
<text x="1297.39" y="567.2" font-size="21.82" stroke="#000" stroke-width="0.5" textLength="55.79" lengthAdjust="spacingAndGlyphs">MEN1</text>
<text x="1297.38" y="583.9" font-size="21.82" stroke="#000" stroke-width="0.5" textLength="83.24" lengthAdjust="spacingAndGlyphs">EMILIN3</text>
<text x="1297.38" y="600.6" font-size="21.82" stroke="#000" stroke-width="0.5" textLength="80.43" lengthAdjust="spacingAndGlyphs">RHBDL3</text>
<text x="1296.61" y="617.3" font-size="21.82" stroke="#000" stroke-width="0.5" textLength="90.42" lengthAdjust="spacingAndGlyphs">ST3GAL2</text>
<text x="1297.14" y="634" font-size="21.82" stroke="#000" stroke-width="0.5" textLength="51.79" lengthAdjust="spacingAndGlyphs">OPA3</text>
<text x="1297.36" y="650.7" font-size="21.82" stroke="#000" stroke-width="0.5" textLength="66.77" lengthAdjust="spacingAndGlyphs">NYAP1</text>
<text x="1297.58" y="667.4" font-size="21.82" stroke="#000" stroke-width="0.5" textLength="60.99" lengthAdjust="spacingAndGlyphs">TFCP2</text>
<text x="1297.36" y="684.1" font-size="21.82" stroke="#000" stroke-width="0.5" textLength="51.91" lengthAdjust="spacingAndGlyphs">FBN2</text>
<text x="1297.4" y="700.8" font-size="21.98" stroke="#000" stroke-width="0.5" textLength="27.78" lengthAdjust="spacingAndGlyphs">HR</text>
<text x="1297.58" y="717.5" font-size="21.82" stroke="#000" stroke-width="0.5" textLength="65.5" lengthAdjust="spacingAndGlyphs">TCEA2</text>
<text x="1297.35" y="734.2" font-size="21.82" stroke="#000" stroke-width="0.5" textLength="69.11" lengthAdjust="spacingAndGlyphs">LYNX1</text>
<text x="1297.58" y="750.9" font-size="21.82" stroke="#000" stroke-width="0.5" textLength="94.26" lengthAdjust="spacingAndGlyphs">TMEM179</text>
<text x="1297.35" y="767.6" font-size="21.82" stroke="#000" stroke-width="0.5" textLength="71.78" lengthAdjust="spacingAndGlyphs">MGAT3</text>
<text x="1297.59" y="784.3" font-size="21.82" stroke="#000" stroke-width="0.5" textLength="61.04" lengthAdjust="spacingAndGlyphs">TCFL5</text>
<text x="1298" y="801" font-size="21.82" stroke="#000" stroke-width="0.5" textLength="69.19" lengthAdjust="spacingAndGlyphs">WDR13</text>
<text x="1297.15" y="817.7" font-size="21.82" stroke="#000" stroke-width="0.5" textLength="51.89" lengthAdjust="spacingAndGlyphs">GPC6</text>
<text x="1297.37" y="834.4" font-size="21.82" stroke="#000" stroke-width="0.5" textLength="84.19" lengthAdjust="spacingAndGlyphs">DYRK1B</text>
<text x="1297.38" y="851.1" font-size="21.82" stroke="#000" stroke-width="0.5" textLength="65.81" lengthAdjust="spacingAndGlyphs">LRRN1</text>
<text x="1297.37" y="867.8" font-size="21.65" stroke="#000" stroke-width="0.5" textLength="100.46" lengthAdjust="spacingAndGlyphs">MAPK8IP2</text>
<line x1="1412.1" y1="875.6" x2="1412.1" y2="885.6" stroke="#262626" stroke-width="1.2"/>
<line x1="1482.03" y1="875.6" x2="1482.03" y2="885.6" stroke="#c8c8c8" stroke-width="1.2"/>
<line x1="1551.96" y1="875.6" x2="1551.96" y2="885.6" stroke="#262626" stroke-width="1.2"/>
<line x1="1621.89" y1="875.6" x2="1621.89" y2="885.6" stroke="#262626" stroke-width="1.2"/>
<line x1="1691.82" y1="875.6" x2="1691.82" y2="885.6" stroke="#262626" stroke-width="1.2"/>
<text x="1396.51" y="905.6" font-size="21.65" stroke="#000" stroke-width="0.8" textLength="33.97" lengthAdjust="spacingAndGlyphs">0.0</text>
<text x="1464.4" y="905.6" font-size="21.65" stroke="#000" stroke-width="0.8" textLength="34.31" lengthAdjust="spacingAndGlyphs">0.2</text>
<text x="1533.2" y="905.6" font-size="21.65" stroke="#000" stroke-width="0.8" textLength="34.41" lengthAdjust="spacingAndGlyphs">0.4</text>
<text x="1602.23" y="905.6" font-size="21.65" stroke="#000" stroke-width="0.8" textLength="33.58" lengthAdjust="spacingAndGlyphs">0.6</text>
<text x="1677.31" y="905.6" font-size="21.65" stroke="#000" stroke-width="0.8" textLength="33.97" lengthAdjust="spacingAndGlyphs">0.8</text>
<text x="1458.63" y="515.4" font-size="25.04" stroke="#000" stroke-width="0.8" textLength="219.2" lengthAdjust="spacingAndGlyphs">Variable Importance</text>
<text x="1484.76" y="938.7" font-size="25.47" stroke="#000" stroke-width="0.5" textLength="157.31" lengthAdjust="spacingAndGlyphs">IncNodePurity</text>
<line x1="131.9" y1="523.8" x2="539.2" y2="523.8" stroke="#262626" stroke-width="1.3"/>
<line x1="539.2" y1="523.8" x2="539.2" y2="879.8" stroke="#262626" stroke-width="1.3"/>
<line x1="131.9" y1="879.8" x2="539.2" y2="879.8" stroke="#262626" stroke-width="1.3"/>
<line x1="131.9" y1="523.8" x2="131.9" y2="879.8" stroke="#8a8a8a" stroke-width="1.2"/>
<line x1="161.6" y1="879.8" x2="161.6" y2="887.8" stroke="#262626" stroke-width="1.2"/>
<line x1="161.6" y1="523.8" x2="161.6" y2="519.8" stroke="#262626" stroke-width="1.1"/>
<line x1="229.3" y1="879.8" x2="229.3" y2="887.8" stroke="#c4c4c4" stroke-width="1.2"/>
<line x1="229.3" y1="523.8" x2="229.3" y2="519.8" stroke="#262626" stroke-width="1.1"/>
<line x1="295.9" y1="879.8" x2="295.9" y2="887.8" stroke="#c4c4c4" stroke-width="1.2"/>
<line x1="295.9" y1="523.8" x2="295.9" y2="519.8" stroke="#262626" stroke-width="1.1"/>
<line x1="360.2" y1="879.8" x2="360.2" y2="887.8" stroke="#c4c4c4" stroke-width="1.2"/>
<line x1="360.2" y1="523.8" x2="360.2" y2="519.8" stroke="#262626" stroke-width="1.1"/>
<line x1="429.1" y1="879.8" x2="429.1" y2="887.8" stroke="#262626" stroke-width="1.2"/>
<line x1="429.1" y1="523.8" x2="429.1" y2="519.8" stroke="#262626" stroke-width="1.1"/>
<line x1="494.6" y1="879.8" x2="494.6" y2="887.8" stroke="#262626" stroke-width="1.2"/>
<line x1="494.6" y1="523.8" x2="494.6" y2="519.8" stroke="#262626" stroke-width="1.1"/>
<line x1="122.9" y1="796.8" x2="131.9" y2="796.8" stroke="#262626" stroke-width="1.1"/>
<line x1="122.9" y1="708.35" x2="131.9" y2="708.35" stroke="#262626" stroke-width="1.1"/>
<line x1="122.9" y1="619.9" x2="131.9" y2="619.9" stroke="#262626" stroke-width="1.1"/>
<line x1="122.9" y1="531.45" x2="131.9" y2="531.45" stroke="#262626" stroke-width="1.1"/>
<text x="154.04" y="516.6" font-size="21.5" stroke="#000" stroke-width="0.5" textLength="17.71" lengthAdjust="spacingAndGlyphs">10</text>
<text x="226.47" y="516.6" font-size="21.67" stroke="#000" stroke-width="0.5" textLength="8.84" lengthAdjust="spacingAndGlyphs">9</text>
<text x="292.88" y="516.6" font-size="21.83" stroke="#000" stroke-width="0.5" textLength="9.38" lengthAdjust="spacingAndGlyphs">7</text>
<text x="356.68" y="516.6" font-size="21.83" stroke="#000" stroke-width="0.5" textLength="9.38" lengthAdjust="spacingAndGlyphs">7</text>
<text x="423.78" y="516.6" font-size="21.83" stroke="#000" stroke-width="0.5" textLength="9.38" lengthAdjust="spacingAndGlyphs">7</text>
<text x="488.47" y="516.6" font-size="21.67" stroke="#000" stroke-width="0.5" textLength="8.17" lengthAdjust="spacingAndGlyphs">4</text>
<text x="142.77" y="903.3" font-size="14.74" stroke="#000" stroke-width="0.75" textLength="33.13" lengthAdjust="spacingAndGlyphs">-4.0</text>
<text x="207.19" y="903.3" font-size="14.85" stroke="#000" stroke-width="0.75" textLength="31.98" lengthAdjust="spacingAndGlyphs">-3.5</text>
<text x="275.57" y="903.3" font-size="14.74" stroke="#000" stroke-width="0.75" textLength="33.13" lengthAdjust="spacingAndGlyphs">-3.0</text>
<text x="344.9" y="903.3" font-size="14.85" stroke="#000" stroke-width="0.75" textLength="31.87" lengthAdjust="spacingAndGlyphs">-2.5</text>
<text x="413.67" y="903.3" font-size="14.74" stroke="#000" stroke-width="0.75" textLength="33.13" lengthAdjust="spacingAndGlyphs">-2.0</text>
<text x="476.87" y="903.3" font-size="14.85" stroke="#000" stroke-width="0.75" textLength="33.13" lengthAdjust="spacingAndGlyphs">-1.5</text>
<text x="270.35" y="931.9" font-size="22.73" stroke="#000" stroke-width="0.5" textLength="135.36" lengthAdjust="spacingAndGlyphs">Log  Lambda</text>
<text transform="translate(121.1,811.3) rotate(-90)" x="-0.82" y="0" font-size="22.11" stroke="#000" stroke-width="0.5" textLength="35.94" lengthAdjust="spacingAndGlyphs">0.00</text>
<text transform="translate(121.1,724.6) rotate(-90)" x="-0.83" y="0" font-size="22.11" stroke="#000" stroke-width="0.5" textLength="36.37" lengthAdjust="spacingAndGlyphs">0.02</text>
<text transform="translate(121.1,636.2) rotate(-90)" x="-0.81" y="0" font-size="22.11" stroke="#000" stroke-width="0.5" textLength="35.52" lengthAdjust="spacingAndGlyphs">0.04</text>
<text transform="translate(121.1,547.8) rotate(-90)" x="-0.82" y="0" font-size="22.11" stroke="#000" stroke-width="0.5" textLength="35.73" lengthAdjust="spacingAndGlyphs">0.06</text>
<text transform="translate(87.7,742.6) rotate(-90)" x="-1.02" y="0" font-size="26.95" stroke="#000" stroke-width="0.5" textLength="124.6" lengthAdjust="spacingAndGlyphs">Coefficients</text>
<path d="M146.4,537 L162.8,555 L184.6,579 L206.5,598.7 L228.3,618.3 L250.2,638 L272,653.3 L293.9,666.4 L315.8,677.3 L330,685.2 L359.1,701.2 L381,712.9 L405.8,723.1 L417.4,731.8 L432,743.5 L446.6,759.5 L461.2,771.2 L475.7,782.8 L490.3,797.1 L524,797.1" fill="none" stroke="#28E2E5" stroke-width="1.2" stroke-dasharray="9 1.5"/>
<path d="M146.4,641.3 L173.7,646.7 L195.6,652.2 L213,656.6 L228.3,668.6 L250.2,681.7 L272,692.6 L293.9,703.6 L315.8,717.8 L330,723.8 L344.6,731.8 L359.1,739.8 L376.6,749.3 L402.9,760.2 L417.4,768.2 L432,778.4 L443.7,788.6 L453.9,797.1" fill="none" stroke="#111" stroke-width="1.25" stroke-dasharray="14 2"/>
<path d="M146.4,670.8 L173.7,690.5 L195.6,704.7 L210.9,713.4 L228.3,718.9 L250.2,724.3 L272,729.8 L293.9,735.3 L315.8,739.6 L330,740.6 L344.6,743.5 L366.4,748.6 L376.6,750.5 L402.9,760.6 L417.4,768.6 L432,778.8 L443.7,789 L453.9,797.1" fill="none" stroke="#DF536B" stroke-width="1.2" stroke-dasharray="12 2.5"/>
<path d="M146.4,736.3 L212,797.1" fill="none" stroke="#B0303E" stroke-width="1.2"/>
<path d="M146.4,763.7 L173.7,769.1 L213,776.8 L250.2,781.1 L293.9,786.6 L330,790.8 L351.9,793.7 L373.7,797.1" fill="none" stroke="#CD0BBC" stroke-width="1.3" stroke-dasharray="16 2"/>
<path d="M146.4,765.8 L173.7,776.8 L202.1,788.8 L239.3,794.3 L272,797.1" fill="none" stroke="#CD0BBC" stroke-width="1.3"/>
<path d="M146.4,779 L173.7,777.4 L195.6,775.7 L228.3,775.7 L272,777.9 L330,781.4 L373.7,783.5 L417.4,785.7 L446.6,787.9 L475.7,791.6 L504.9,794.8 L523.8,797.1" fill="none" stroke="#61D04F" stroke-width="1.2"/>
<path d="M417.4,797.1 L432,790.1 L453.9,784.3 L475.7,783.5 L497.6,785.7 L512.2,791.6 L523.8,797.1" fill="none" stroke="#61D04F" stroke-width="1.2" stroke-dasharray="12 2"/>
<path d="M146.4,829.2 L173.7,843.4 L195.6,856.5 L213,865.3 L239.3,866.4 L272,864.8 L304.8,860.9 L330,856.4 L359.1,849.9 L388.3,844 L417.4,835.3 L446.6,823.6 L475.7,809 L497.6,797.4" fill="none" stroke="#2297E6" stroke-width="1.25" stroke-dasharray="14 2"/>
<path d="M417.4,797.1 L439.3,794.2 L461.2,793.7 L483,795.2 L497.6,797.1" fill="none" stroke="#2297E6" stroke-width="1.1"/>
<path d="M146.4,797.2 L280,797.2" fill="none" stroke="#16324e" stroke-width="1.4"/>
<path d="M280,797.2 L524,797.2" fill="none" stroke="#7a5fd0" stroke-width="1.1"/>
<path d="M212,796.9 L420,796.9" fill="none" stroke="#67b4ee" stroke-width="1.0"/>
<text x="133" y="539" font-size="8" fill="#111">15</text>
<text x="133" y="644" font-size="8" fill="#111">13</text>
<text x="133" y="674" font-size="8" fill="#111">17</text>
<text x="133" y="738" font-size="8" fill="#111">5</text>
<text x="133" y="767" font-size="8" fill="#111">8</text>
<text x="133" y="782" font-size="8" fill="#111">9</text>
<text x="133" y="799" font-size="8" fill="#111">6</text>
<text x="133" y="832" font-size="8" fill="#111">1</text>
<rect x="642.6" y="521.8" width="583.5" height="359.8" fill="none" stroke="#262626" stroke-width="1.3"/>
<line x1="687.7" y1="881.6" x2="687.7" y2="902.6" stroke="#c4c4c4" stroke-width="1.1"/>
<line x1="783" y1="881.6" x2="783" y2="902.6" stroke="#262626" stroke-width="1.1"/>
<line x1="878.3" y1="881.6" x2="878.3" y2="902.6" stroke="#262626" stroke-width="1.1"/>
<line x1="973.6" y1="881.6" x2="973.6" y2="902.6" stroke="#262626" stroke-width="1.1"/>
<line x1="1068.9" y1="881.6" x2="1068.9" y2="902.6" stroke="#262626" stroke-width="1.1"/>
<line x1="1164.2" y1="881.6" x2="1164.2" y2="902.6" stroke="#262626" stroke-width="1.1"/>
<line x1="635.6" y1="601.2" x2="642.6" y2="601.2" stroke="#555" stroke-width="1.0"/>
<line x1="635.6" y1="673.6" x2="642.6" y2="673.6" stroke="#555" stroke-width="1.0"/>
<line x1="635.6" y1="744.8" x2="642.6" y2="744.8" stroke="#555" stroke-width="1.0"/>
<line x1="635.6" y1="816.1" x2="642.6" y2="816.1" stroke="#555" stroke-width="1.0"/>
<line x1="1071.8" y1="523.8" x2="1071.8" y2="879.6" stroke="#444" stroke-width="1.1" stroke-dasharray="1.3 2.2"/>
<path d="M664.3,630.1 V852.1 M660.7,630.1 H667.9 M660.7,852.1 H667.9 M673.2,634.6 V853.3 M669.6,634.6 H676.8 M669.6,853.3 H676.8 M682.2,638.7 V855.3 M678.6,638.7 H685.8 M678.6,855.3 H685.8 M691.1,644.3 V856.4 M687.5,644.3 H694.7 M687.5,856.4 H694.7 M700,648.1 V857.5 M696.4,648.1 H703.6 M696.4,857.5 H703.6 M708.8,652.6 V858.9 M705.2,652.6 H712.4 M705.2,858.9 H712.4 M717.8,656.4 V860.2 M714.2,656.4 H721.4 M714.2,860.2 H721.4 M726.7,661.1 V861.6 M723.1,661.1 H730.3 M723.1,861.6 H730.3 M735.5,665 V863.1 M731.9,665 H739.1 M731.9,863.1 H739.1 M744,668.8 V864.5 M740.4,668.8 H747.6 M740.4,864.5 H747.6 M753,673.3 V865.4 M749.4,673.3 H756.6 M749.4,865.4 H756.6 M762,675.5 V866.3 M758.4,675.5 H765.6 M758.4,866.3 H765.6 M770.8,679.6 V867.2 M767.2,679.6 H774.4 M767.2,867.2 H774.4 M779.8,682.2 V867.9 M776.2,682.2 H783.4 M776.2,867.9 H783.4 M788.5,684.5 V868.3 M784.9,684.5 H792.1 M784.9,868.3 H792.1 M797.3,687.4 V868.3 M793.7,687.4 H800.9 M793.7,868.3 H800.9 M806.3,690.1 V867.9 M802.7,690.1 H809.9 M802.7,867.9 H809.9 M815.1,693 V867.4 M811.5,693 H818.7 M811.5,867.4 H818.7 M823.8,694.8 V866.7 M820.2,694.8 H827.4 M820.2,866.7 H827.4 M832.8,697.1 V866.1 M829.2,697.1 H836.4 M829.2,866.1 H836.4 M841.8,699.1 V865.4 M838.2,699.1 H845.4 M838.2,865.4 H845.4 M850.6,700.9 V865 M847,700.9 H854.2 M847,865 H854.2 M859.3,702 V864.3 M855.7,702 H862.9 M855.7,864.3 H862.9 M868.3,702.5 V863.1 M864.7,702.5 H871.9 M864.7,863.1 H871.9 M877.1,703.1 V861.6 M873.5,703.1 H880.7 M873.5,861.6 H880.7 M886.1,703.1 V859.8 M882.5,703.1 H889.7 M882.5,859.8 H889.7 M895.1,703.1 V857.5 M891.5,703.1 H898.7 M891.5,857.5 H898.7 M903.8,702.5 V854.8 M900.2,702.5 H907.4 M900.2,854.8 H907.4 M912.6,701.6 V851.5 M909,701.6 H916.2 M909,851.5 H916.2 M921.3,699.8 V847.6 M917.7,699.8 H924.9 M917.7,847.6 H924.9 M930.3,698 V844.7 M926.7,698 H933.9 M926.7,844.7 H933.9 M939,695.3 V841.3 M935.4,695.3 H942.6 M935.4,841.3 H942.6 M948,693 V836.9 M944.4,693 H951.6 M944.4,836.9 H951.6 M957,689 V832.4 M953.4,689 H960.6 M953.4,832.4 H960.6 M966,685.2 V827.4 M962.4,685.2 H969.6 M962.4,827.4 H969.6 M974.9,681.3 V823.4 M971.3,681.3 H978.5 M971.3,823.4 H978.5 M983.5,677.3 V818.4 M979.9,677.3 H987.1 M979.9,818.4 H987.1 M992.5,673.5 V813.9 M988.9,673.5 H996.1 M988.9,813.9 H996.1 M1001.2,669.4 V809.2 M997.6,669.4 H1004.8 M997.6,809.2 H1004.8 M1010.2,665.6 V805 M1006.6,665.6 H1013.8 M1006.6,805 H1013.8 M1019.2,661.1 V799.8 M1015.6,661.1 H1022.8 M1015.6,799.8 H1022.8 M1028,656.4 V795.5 M1024.4,656.4 H1031.6 M1024.4,795.5 H1031.6 M1036.7,653.3 V790.8 M1033.1,653.3 H1040.3 M1033.1,790.8 H1040.3 M1045.5,647.6 V786.7 M1041.9,647.6 H1049.1 M1041.9,786.7 H1049.1 M1054.3,644.3 V780.7 M1050.7,644.3 H1057.9 M1050.7,780.7 H1057.9 M1063.3,638.4 V776.2 M1059.7,638.4 H1066.9 M1059.7,776.2 H1066.9 M1072,634.2 V769.9 M1068.4,634.2 H1075.6 M1068.4,769.9 H1075.6 M1081,627.9 V764.9 M1077.4,627.9 H1084.6 M1077.4,764.9 H1084.6 M1090,622.9 V759.6 M1086.4,622.9 H1093.6 M1086.4,759.6 H1093.6 M1098.5,616 V753.7 M1094.9,616 H1102.1 M1094.9,753.7 H1102.1 M1107.5,608.3 V749.2 M1103.9,608.3 H1111.1 M1103.9,749.2 H1111.1 M1116.3,600.4 V742.9 M1112.7,600.4 H1119.9 M1112.7,742.9 H1119.9 M1125.5,590.1 V738 M1121.9,590.1 H1129.1 M1121.9,738 H1129.1 M1134,579.6 V732.4 M1130.4,579.6 H1137.6 M1130.4,732.4 H1137.6 M1143,568.8 V726.3 M1139.4,568.8 H1146.6 M1139.4,726.3 H1146.6 M1152,561.6 V720 M1148.4,561.6 H1155.6 M1148.4,720 H1155.6 M1160.6,553.3 V714.4 M1157,553.3 H1164.2 M1157,714.4 H1164.2 M1169.6,549.2 V709.9 M1166,549.2 H1173.2 M1166,709.9 H1173.2 M1178.1,546.3 V703.8 M1174.5,546.3 H1181.7 M1174.5,703.8 H1181.7 M1187.1,541.8 V699.1 M1183.5,541.8 H1190.7 M1183.5,699.1 H1190.7 M1196.1,538.7 V693 M1192.5,538.7 H1199.7 M1192.5,693 H1199.7 M1205.1,535.7 V688.5 M1201.5,535.7 H1208.7 M1201.5,688.5 H1208.7" fill="none" stroke="#ababab" stroke-width="1.1"/>
<g fill="#e00000"><circle cx="664.3" cy="741.3" r="2.6"/><circle cx="673.2" cy="743.1" r="2.6"/><circle cx="682.2" cy="747.2" r="2.6"/><circle cx="691.1" cy="750.1" r="2.6"/><circle cx="700" cy="753" r="2.6"/><circle cx="708.8" cy="756.2" r="2.6"/><circle cx="717.8" cy="758.7" r="2.6"/><circle cx="726.7" cy="761.8" r="2.6"/><circle cx="735.5" cy="764" r="2.6"/><circle cx="744" cy="767.2" r="2.6"/><circle cx="753" cy="769.4" r="2.6"/><circle cx="762" cy="771.7" r="2.6"/><circle cx="770.8" cy="773.5" r="2.6"/><circle cx="779.8" cy="775.3" r="2.6"/><circle cx="788.5" cy="776.4" r="2.6"/><circle cx="797.3" cy="777.8" r="2.6"/><circle cx="806.3" cy="779.1" r="2.6"/><circle cx="815.1" cy="780.2" r="2.6"/><circle cx="823.8" cy="780.9" r="2.6"/><circle cx="832.8" cy="781.3" r="2.6"/><circle cx="841.8" cy="781.8" r="2.6"/><circle cx="850.6" cy="782.2" r="2.6"/><circle cx="859.3" cy="782.5" r="2.6"/><circle cx="868.3" cy="782.2" r="2.6"/><circle cx="877.1" cy="782" r="2.6"/><circle cx="886.1" cy="781.6" r="2.6"/><circle cx="895.1" cy="780.9" r="2.6"/><circle cx="903.8" cy="780" r="2.6"/><circle cx="912.6" cy="778.4" r="2.6"/><circle cx="921.3" cy="776.2" r="2.6"/><circle cx="930.3" cy="773.5" r="2.6"/><circle cx="939" cy="771" r="2.6"/><circle cx="948" cy="764.5" r="2.6"/><circle cx="957" cy="760.9" r="2.6"/><circle cx="966" cy="756.9" r="2.6"/><circle cx="974.9" cy="751.9" r="2.6"/><circle cx="983.5" cy="747.9" r="2.6"/><circle cx="992.5" cy="743.6" r="2.6"/><circle cx="1001.2" cy="739.6" r="2.6"/><circle cx="1010.2" cy="735.1" r="2.6"/><circle cx="1019.2" cy="730.6" r="2.6"/><circle cx="1028" cy="726.1" r="2.6"/><circle cx="1036.7" cy="721.8" r="2.6"/><circle cx="1045.5" cy="717.3" r="2.6"/><circle cx="1054.3" cy="712.6" r="2.6"/><circle cx="1063.3" cy="707.6" r="2.6"/><circle cx="1072" cy="702.5" r="2.6"/><circle cx="1081" cy="696.9" r="2.6"/><circle cx="1090" cy="691.5" r="2.6"/><circle cx="1098.5" cy="685.6" r="2.6"/><circle cx="1107.5" cy="679.1" r="2.6"/><circle cx="1116.3" cy="672.4" r="2.6"/><circle cx="1125.5" cy="664.3" r="2.6"/><circle cx="1134" cy="656.4" r="2.6"/><circle cx="1143" cy="648.1" r="2.6"/><circle cx="1152" cy="641.3" r="2.6"/><circle cx="1160.6" cy="634.2" r="2.6"/><circle cx="1169.6" cy="629.4" r="2.6"/><circle cx="1178.1" cy="625.2" r="2.6"/><circle cx="1187.1" cy="620.7" r="2.6"/><circle cx="1196.1" cy="616" r="2.6"/><circle cx="1205.1" cy="612.1" r="2.6"/></g>
<text x="654.51" y="514" font-size="20.15" stroke="#000" stroke-width="0.75" textLength="21.03" lengthAdjust="spacingAndGlyphs">10</text>
<text x="690.51" y="514" font-size="20.15" stroke="#000" stroke-width="0.75" textLength="21.03" lengthAdjust="spacingAndGlyphs">10</text>
<text x="726.52" y="514" font-size="20.15" stroke="#000" stroke-width="0.75" textLength="20.91" lengthAdjust="spacingAndGlyphs">10</text>
<text x="756.51" y="514" font-size="20.3" stroke="#000" stroke-width="0.75" textLength="11.51" lengthAdjust="spacingAndGlyphs">9</text>
<text x="782.61" y="514" font-size="20.3" stroke="#000" stroke-width="0.75" textLength="11.51" lengthAdjust="spacingAndGlyphs">9</text>
<text x="809.99" y="514" font-size="20.15" stroke="#000" stroke-width="0.75" textLength="10.12" lengthAdjust="spacingAndGlyphs">8</text>
<text x="835.42" y="514" font-size="20.15" stroke="#000" stroke-width="0.75" textLength="10.95" lengthAdjust="spacingAndGlyphs">8</text>
<text x="859.52" y="514" font-size="20.46" stroke="#000" stroke-width="0.75" textLength="11.36" lengthAdjust="spacingAndGlyphs">7</text>
<text x="887.02" y="514" font-size="20.46" stroke="#000" stroke-width="0.75" textLength="11.36" lengthAdjust="spacingAndGlyphs">7</text>
<text x="912.66" y="514" font-size="20.46" stroke="#000" stroke-width="0.75" textLength="11.48" lengthAdjust="spacingAndGlyphs">7</text>
<text x="938.76" y="514" font-size="20.46" stroke="#000" stroke-width="0.75" textLength="11.48" lengthAdjust="spacingAndGlyphs">7</text>
<text x="964.46" y="514" font-size="20.46" stroke="#000" stroke-width="0.75" textLength="11.48" lengthAdjust="spacingAndGlyphs">7</text>
<text x="996.58" y="514" font-size="20.3" stroke="#000" stroke-width="0.75" textLength="10.81" lengthAdjust="spacingAndGlyphs">6</text>
<text x="1021.88" y="514" font-size="20.3" stroke="#000" stroke-width="0.75" textLength="10.81" lengthAdjust="spacingAndGlyphs">6</text>
<text x="1048.06" y="514" font-size="20.46" stroke="#000" stroke-width="0.75" textLength="11.48" lengthAdjust="spacingAndGlyphs">7</text>
<text x="1074.16" y="514" font-size="20.46" stroke="#000" stroke-width="0.75" textLength="11.48" lengthAdjust="spacingAndGlyphs">7</text>
<text x="1099.95" y="514" font-size="20.46" stroke="#000" stroke-width="0.75" textLength="11.63" lengthAdjust="spacingAndGlyphs">5</text>
<text x="1131.45" y="514" font-size="20.46" stroke="#000" stroke-width="0.75" textLength="11.63" lengthAdjust="spacingAndGlyphs">5</text>
<text x="1158.55" y="514" font-size="20.3" stroke="#000" stroke-width="0.75" textLength="10" lengthAdjust="spacingAndGlyphs">4</text>
<text x="1183.6" y="514" font-size="20.3" stroke="#000" stroke-width="0.75" textLength="11.63" lengthAdjust="spacingAndGlyphs">2</text>
<text x="668.09" y="901.8" font-size="16.99" stroke="#000" stroke-width="0.75" textLength="31.98" lengthAdjust="spacingAndGlyphs">-4.0</text>
<text x="763.08" y="901.8" font-size="17.12" stroke="#000" stroke-width="0.75" textLength="32.71" lengthAdjust="spacingAndGlyphs">-3.5</text>
<text x="858.77" y="901.8" font-size="16.99" stroke="#000" stroke-width="0.75" textLength="32.92" lengthAdjust="spacingAndGlyphs">-3.0</text>
<text x="954.67" y="901.8" font-size="17.12" stroke="#000" stroke-width="0.75" textLength="32.92" lengthAdjust="spacingAndGlyphs">-2.5</text>
<text x="1046.75" y="901.8" font-size="16.99" stroke="#000" stroke-width="0.75" textLength="34.07" lengthAdjust="spacingAndGlyphs">-2.0</text>
<text x="1142.75" y="901.8" font-size="17.12" stroke="#000" stroke-width="0.75" textLength="33.97" lengthAdjust="spacingAndGlyphs">-1.5</text>
<text x="892.74" y="933.4" font-size="23.83" stroke="#000" stroke-width="0.8" textLength="69.51" lengthAdjust="spacingAndGlyphs">Log(λ)</text>
<text transform="translate(631.3,539.3) rotate(-90)" x="-1.6" y="0" font-size="18.79" stroke="#000" stroke-width="0.5" textLength="23.59" lengthAdjust="spacingAndGlyphs">1.4</text>
<text transform="translate(631.3,610.5) rotate(-90)" x="-1.66" y="0" font-size="18.79" stroke="#000" stroke-width="0.5" textLength="24.44" lengthAdjust="spacingAndGlyphs">1.2</text>
<text transform="translate(631.3,684.9) rotate(-90)" x="-1.64" y="0" font-size="18.65" stroke="#000" stroke-width="0.5" textLength="24.11" lengthAdjust="spacingAndGlyphs">1.0</text>
<text transform="translate(631.3,754.1) rotate(-90)" x="-0.74" y="0" font-size="18.65" stroke="#000" stroke-width="0.5" textLength="23.18" lengthAdjust="spacingAndGlyphs">0.8</text>
<text transform="translate(631.3,828.5) rotate(-90)" x="-0.84" y="0" font-size="18.65" stroke="#000" stroke-width="0.5" textLength="26.27" lengthAdjust="spacingAndGlyphs">0.6</text>
<text transform="translate(595.1,780) rotate(-90)" x="-0.37" y="0" font-size="23.74" font-weight="bold" textLength="197.22" lengthAdjust="spacingAndGlyphs">Binomial Deviance</text>
<circle cx="431.3" cy="1262" r="207" fill="#e5b5ae"/>
<circle cx="598.6" cy="1259.8" r="206.5" fill="#c5e2ec"/>
<clipPath id="ce"><circle cx="431.3" cy="1262" r="207"/></clipPath>
<circle cx="598.6" cy="1259.8" r="206.5" fill="#ecdfe1" clip-path="url(#ce)"/>
<text x="314.61" y="1046.3" font-size="42.27" stroke="#000" stroke-width="0.2" textLength="136.73" lengthAdjust="spacingAndGlyphs">LASSO</text>
<text x="619.33" y="1046.3" font-size="42.6" stroke="#000" stroke-width="0.2" textLength="51.68" lengthAdjust="spacingAndGlyphs">RF</text>
<text x="283.14" y="1134.1" font-size="24.55" font-weight="bold" fill="#1414ee" textLength="97.41" lengthAdjust="spacingAndGlyphs">MAP4K2</text>
<text x="283.14" y="1177.9" font-size="24.55" font-weight="bold" fill="#1414ee" textLength="81.44" lengthAdjust="spacingAndGlyphs">KLHL6</text>
<text x="283.26" y="1221.3" font-size="24.55" font-weight="bold" fill="#1414ee" textLength="112.13" lengthAdjust="spacingAndGlyphs">ANGPTL3</text>
<text x="283.14" y="1307.9" font-size="24.55" font-weight="bold" fill="#1414ee" textLength="80.08" lengthAdjust="spacingAndGlyphs">RAPH1</text>
<text x="283.14" y="1352.1" font-size="24.55" font-weight="bold" fill="#1414ee" textLength="97.45" lengthAdjust="spacingAndGlyphs">RHBDL3</text>
<text x="282.3" y="1395.2" font-size="24.55" font-weight="bold" fill="#1414ee" textLength="62.73" lengthAdjust="spacingAndGlyphs">GPC6</text>
<text x="476.34" y="1221.4" font-size="24.55" font-weight="bold" fill="#a01ee8" textLength="106.31" lengthAdjust="spacingAndGlyphs">FAM219A</text>
<text x="476.34" y="1308" font-size="24.55" font-weight="bold" fill="#d0101c" textLength="74.74" lengthAdjust="spacingAndGlyphs">TFCP2</text>
<text x="475.5" y="1351.8" font-size="24.55" font-weight="bold" fill="#d0101c" textLength="60.94" lengthAdjust="spacingAndGlyphs">OPA3</text>
<text x="476.34" y="1395.2" font-size="24.55" font-weight="bold" fill="#d0101c" textLength="102.79" lengthAdjust="spacingAndGlyphs">EMILIN3</text>
<text x="660.04" y="1143.8" font-size="24.55" font-weight="bold" fill="#1414ee" textLength="77.44" lengthAdjust="spacingAndGlyphs">BRSK1</text>
<text x="660.04" y="1187" font-size="24.55" font-weight="bold" fill="#1414ee" textLength="77.88" lengthAdjust="spacingAndGlyphs">LYNX1</text>
<text x="659.32" y="1229.8" font-size="24.55" font-weight="bold" fill="#1414ee" textLength="57.39" lengthAdjust="spacingAndGlyphs">JPH3</text>
<text x="660.16" y="1316.3" font-size="24.55" font-weight="bold" fill="#1414ee" textLength="80.1" lengthAdjust="spacingAndGlyphs">AGBL1</text>
<text x="660.04" y="1360.1" font-size="24.55" font-weight="bold" fill="#1414ee" textLength="98.78" lengthAdjust="spacingAndGlyphs">DYRK1B</text>
<text x="659.2" y="1402.8" font-size="24.55" font-weight="bold" fill="#1414ee" textLength="77.41" lengthAdjust="spacingAndGlyphs">CABP1</text>
<text x="299.17" y="1268.7" font-size="32.27" stroke="#000" stroke-width="0.5" textLength="17.91" lengthAdjust="spacingAndGlyphs">6</text>
<text x="506.61" y="1268.7" font-size="32.27" stroke="#000" stroke-width="0.5" textLength="17.31" lengthAdjust="spacingAndGlyphs">4</text>
<text x="713.64" y="1268.9" font-size="32.27" stroke="#000" stroke-width="0.5" textLength="16.98" lengthAdjust="spacingAndGlyphs">6</text>
<circle cx="1153.9" cy="1260.8" r="203.3" fill="#e5b5ae"/>
<circle cx="1319.2" cy="1261.5" r="202.6" fill="#c5e2ec"/>
<clipPath id="cf"><circle cx="1153.9" cy="1260.8" r="203.3"/></clipPath>
<circle cx="1319.2" cy="1261.5" r="202.6" fill="#ecdfe1" clip-path="url(#cf)"/>
<text x="1056.05" y="1045.6" font-size="41.97" stroke="#000" stroke-width="0.2" textLength="121.59" lengthAdjust="spacingAndGlyphs">LASSO</text>
<text x="1339.42" y="1045.6" font-size="42.29" stroke="#000" stroke-width="0.2" textLength="47.97" lengthAdjust="spacingAndGlyphs">RF</text>
<text x="1021.27" y="1142.6" font-size="26.06" fill="#1414ee" stroke="#1414ee" stroke-width="0.75" textLength="62.31" lengthAdjust="spacingAndGlyphs">NOL3</text>
<text x="1022.41" y="1184.6" font-size="24.89" fill="#1414ee" stroke="#1414ee" stroke-width="0.75" textLength="47.57" lengthAdjust="spacingAndGlyphs">TTN</text>
<text x="1022.42" y="1227" font-size="25.76" fill="#1414ee" stroke="#1414ee" stroke-width="0.75" textLength="71.35" lengthAdjust="spacingAndGlyphs">TCFL5</text>
<text x="1228.5" y="1218.9" font-size="25.34" fill="#a01ee8" stroke="#a01ee8" stroke-width="0.35" textLength="32.6" lengthAdjust="spacingAndGlyphs">HR</text>
<text x="1209.49" y="1304.9" font-size="25.91" fill="#d0101c" stroke="#d0101c" stroke-width="0.75" textLength="73" lengthAdjust="spacingAndGlyphs">TFCP2</text>
<text x="1212.65" y="1346.8" font-size="24.85" fill="#d0101c" stroke="#d0101c" stroke-width="0.75" textLength="63.06" lengthAdjust="spacingAndGlyphs">OPA3</text>
<text x="1194.76" y="1389.6" font-size="25.91" fill="#d0101c" stroke="#d0101c" stroke-width="0.75" textLength="99.11" lengthAdjust="spacingAndGlyphs">EMILIN3</text>
<text x="1379.53" y="1133.7" font-size="24.39" fill="#1414ee" stroke="#1414ee" stroke-width="0.75" textLength="62.38" lengthAdjust="spacingAndGlyphs">FBN2</text>
<text x="1379.53" y="1176.5" font-size="24.55" fill="#1414ee" stroke="#1414ee" stroke-width="0.75" textLength="79.86" lengthAdjust="spacingAndGlyphs">NYAP1</text>
<text x="1379.8" y="1218.9" font-size="24.85" fill="#1414ee" stroke="#1414ee" stroke-width="0.75" textLength="85.63" lengthAdjust="spacingAndGlyphs">TTLL12</text>
<text x="1379.56" y="1304.9" font-size="25.91" fill="#1414ee" stroke="#1414ee" stroke-width="0.75" textLength="95.6" lengthAdjust="spacingAndGlyphs">RHBDL3</text>
<text x="1378.66" y="1346.8" font-size="24.85" fill="#1414ee" stroke="#1414ee" stroke-width="0.75" textLength="106.38" lengthAdjust="spacingAndGlyphs">ST3GAL2</text>
<text x="1379.56" y="1389.6" font-size="25.91" fill="#1414ee" stroke="#1414ee" stroke-width="0.75" textLength="66.97" lengthAdjust="spacingAndGlyphs">MEN1</text>
<text x="1023.84" y="1269.4" font-size="33.33" stroke="#000" stroke-width="0.5" textLength="17.35" lengthAdjust="spacingAndGlyphs">3</text>
<text x="1228.56" y="1269.4" font-size="33.18" stroke="#000" stroke-width="0.5" textLength="16.02" lengthAdjust="spacingAndGlyphs">4</text>
<text x="1431.85" y="1269.4" font-size="33.18" stroke="#000" stroke-width="0.5" textLength="16.86" lengthAdjust="spacingAndGlyphs">6</text>
<path d="M514.9,1413.3 C515.2,1435 516.8,1452 520.2,1461 Q522.6,1467.6 529.5,1467.6 H879 C886,1467.6 888.5,1475 889,1490 V1547" fill="none" stroke="#d80000" stroke-width="6.0" stroke-linejoin="round" stroke-linecap="round"/>
<path d="M1263.6,1413.3 C1263.3,1435 1261.7,1452 1258.3,1461 Q1255.9,1467.6 1249,1467.6 H899 C892,1467.6 889.5,1475 889,1490" fill="none" stroke="#d80000" stroke-width="6.0" stroke-linejoin="round"/>
<text x="519.33" y="1619.2" font-size="68.64" font-weight="bold" fill="#d00c0c" textLength="708.8" lengthAdjust="spacingAndGlyphs">TFCP2, OPA3, EMILIN3</text>
</svg></body></html>
